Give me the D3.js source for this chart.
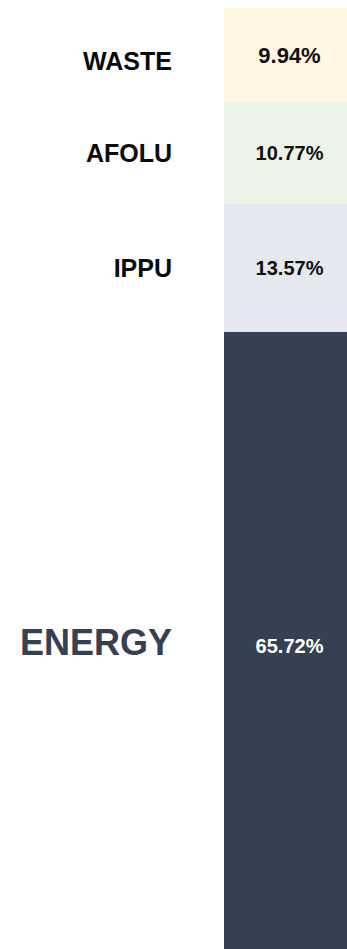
<!DOCTYPE html>
<html>
<head>
<meta charset="utf-8">
<script src="https://cdn.jsdelivr.net/npm/d3@7"></script>
<style>
  html, body { margin: 0; padding: 0; background: #fff; overflow: hidden; }
</style>
</head>
<body>
<div id="chart"></div>
<script>
// emission shares by sector, top to bottom
const sectors = ["WASTE", "AFOLU", "IPPU", "ENERGY"];
const shares = [9.94, 10.77, 13.57, 65.72];
const fills = ["#fff6e1", "#ecf3e7", "#e5e8ee", "#354052"];

const width = 347,
  height = 949;
const margin = { top: 8, left: 224, right: 0 };
const barBottom = 953;

const svg = d3.select("#chart")
  .append("svg")
  .attr("width", width)
  .attr("height", height);

// stack the shares
let acc = 0;
const rows = sectors.map((s, i) => {
  const r = { name: s, value: shares[i], y0: acc, y1: acc + shares[i], fill: fills[i] };
  acc += shares[i];
  return r;
});

const y = d3.scaleLinear().domain([0, 100]).range([margin.top, barBottom]);
const x = d3.scaleBand().domain(["total"]).range([margin.left, width - margin.right]).padding(0);

svg.append("g")
  .selectAll("rect")
  .data(rows)
  .join("rect")
  .attr("x", x("total"))
  .attr("width", x.bandwidth())
  .attr("y", d => y(d.y0))
  .attr("height", d => y(d.y1) - y(d.y0))
  .attr("fill", d => d.fill);

// percentage inside the bar
svg.append("g")
  .attr("text-anchor", "middle")
  .attr("font-family", "'Liberation Sans', Arial, sans-serif")
  .attr("font-weight", 700)
  .selectAll("text")
  .data(rows)
  .join("text")
  .attr("x", x("total") + x.bandwidth() / 2 + 4)
  .attr("y", d => y((d.y0 + d.y1) / 2))
  .attr("dy", d => d.name == "ENERGY" ? "0.55em" : "0.36em")
  .attr("font-size", d => d.name == "WASTE" ? 22 : 20)
  .attr("fill", d => d.name == "ENERGY" ? "#ffffff" : "#111111")
  .text(d => d.value.toFixed(2) + "%");

// sector names on the left
svg.append("g")
  .attr("text-anchor", "end")
  .attr("font-family", "'Liberation Sans', Arial, sans-serif")
  .attr("font-weight", 700)
  .selectAll("text")
  .data(rows)
  .join("text")
  .attr("x", 172)
  .attr("y", d => y((d.y0 + d.y1) / 2))
  .attr("dy", d => d.name == "WASTE" ? "0.6em" : "0.36em")
  .attr("font-size", d => d.name == "ENERGY" ? 36 : 25)
  .attr("fill", d => d.name == "ENERGY" ? "#354052" : "#0a0a0a")
  .text(d => d.name);
</script>
</body>
</html>
